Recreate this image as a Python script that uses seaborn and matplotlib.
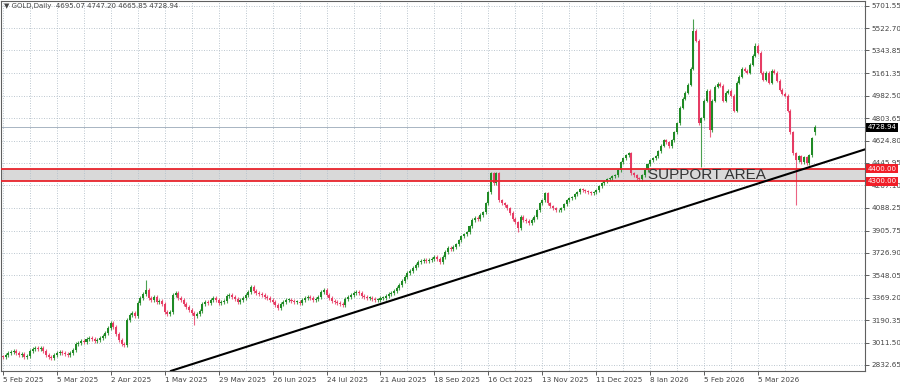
import matplotlib
matplotlib.use("Agg")
import matplotlib.pyplot as plt
import matplotlib.transforms as mtransforms
import numpy as np
import pandas as pd
import seaborn as sns

# ---------------- data ----------------
closes = [
    2896, 2912, 2928, 2936, 2944, 2928, 2912, 2920, 2896, 2904,
    2944, 2960, 2968, 2960, 2968, 2944, 2912, 2896, 2888, 2912,
    2928, 2936, 2928, 2920, 2912, 2928, 2952, 2999, 3007, 3023,
    3015, 3039, 3047, 3039, 3023, 3031, 3047, 3063, 3087, 3127,
    3167, 3135, 3079, 3031, 2999, 2991, 3191, 3231, 3247, 3223,
    3326, 3366, 3398, 3430, 3366, 3350, 3374, 3334, 3342, 3318,
    3254, 3239, 3254, 3390, 3406, 3366, 3350, 3318, 3294, 3270,
    3247, 3223, 3239, 3262, 3318, 3334, 3326, 3350, 3366, 3350,
    3326, 3334, 3342, 3382, 3390, 3374, 3358, 3334, 3350, 3366,
    3390, 3414, 3454, 3422, 3406, 3398, 3390, 3374, 3366, 3350,
    3334, 3310, 3286, 3318, 3334, 3350, 3350, 3342, 3334, 3334,
    3326, 3350, 3366, 3374, 3366, 3350, 3358, 3374, 3414, 3430,
    3390, 3366, 3342, 3334, 3326, 3318, 3310, 3358, 3374, 3390,
    3406, 3414, 3406, 3382, 3374, 3366, 3366, 3358, 3350, 3350,
    3366, 3366, 3382, 3398, 3406, 3422, 3446, 3470, 3502, 3533,
    3565, 3581, 3605, 3629, 3653, 3661, 3669, 3661, 3669, 3677,
    3693, 3677, 3653, 3693, 3733, 3765, 3757, 3773, 3796, 3828,
    3860, 3876, 3892, 3940, 3988, 4004, 3996, 4028, 4051, 4123,
    4211, 4362, 4283, 4362, 4147, 4123, 4107, 4083, 4044, 3996,
    3972, 3924, 4012, 3988, 3980, 3964, 3988, 4012, 4067, 4123,
    4147, 4203, 4123, 4099, 4083, 4067, 4067, 4083, 4115, 4147,
    4163, 4171, 4195, 4211, 4235, 4227, 4219, 4211, 4203, 4211,
    4227, 4259, 4283, 4299, 4315, 4322, 4338, 4346, 4386, 4450,
    4482, 4506, 4522, 4362, 4346, 4322, 4315, 4346, 4386, 4434,
    4466, 4482, 4498, 4538, 4585, 4625, 4609, 4578, 4625, 4689,
    4761, 4888, 4960, 5008, 5072, 5199, 5502, 5422, 4761, 4801,
    4944, 5024, 4705, 4944, 5056, 5080, 5064, 4944, 5008, 5024,
    4984, 4864, 5088, 5135, 5199, 5183, 5167, 5231, 5303, 5383,
    5327, 5167, 5112, 5167, 5088, 5183, 5167, 5104, 5032, 5000,
    4984, 4864, 4689, 4522, 4466, 4498, 4450, 4490, 4442, 4506,
    4641, 4728.94,
]
first_open = 2900
last_open, last_high, last_low = 4695.07, 4747.20, 4665.85
wick_highs = {53: 3510, 181: 4370, 183: 4372, 232: 4530, 256: 5598, 279: 5406}
wick_lows = {71: 3151, 191: 3892, 259: 4410, 262: 4649, 294: 4107}

date_labels = ["5 Feb 2025", "5 Mar 2025", "2 Apr 2025", "1 May 2025", "29 May 2025",
               "26 Jun 2025", "24 Jul 2025", "21 Aug 2025", "18 Sep 2025", "16 Oct 2025",
               "13 Nov 2025", "11 Dec 2025", "8 Jan 2026", "5 Feb 2026", "5 Mar 2026"]
date_positions = [0, 20, 40, 60, 80, 100, 120, 140, 160, 180, 200, 220, 240, 260, 280]
price_ticks = [5701.55, 5522.70, 5343.85, 5161.35, 4982.50, 4803.65, 4624.80, 4445.95,
               4267.10, 4088.25, 3905.75, 3726.90, 3548.05, 3369.20, 3190.35, 3011.50, 2832.65]
support_levels = [4400.00, 4300.00]
last_price = 4728.94
trend_idx = [62.2, 319.6]
trend_price = [2784, 4554]
title = "\u25BC GOLD,Daily  4695.07 4747.20 4665.85 4728.94"

# ---------------- build OHLC ----------------
n = len(closes)
opens = [first_open] + closes[:-1]
opens[-1] = last_open
df = pd.DataFrame({"i": np.arange(n), "open": opens, "close": closes})
df["high"] = df[["open", "close"]].max(axis=1) + 14
df["low"] = df[["open", "close"]].min(axis=1) - 14
for k, v in wick_highs.items():
    df.loc[k, "high"] = v
for k, v in wick_lows.items():
    df.loc[k, "low"] = v
df.loc[n - 1, "high"] = last_high
df.loc[n - 1, "low"] = last_low
df["up"] = df["close"] >= df["open"]

# ---------------- plot ----------------
sns.set_style("white")
plt.rcParams["font.family"] = ["DejaVu Sans"]

fig = plt.figure(figsize=(9, 3.82), dpi=100)
ax = fig.add_axes([0.001, 11 / 382, 0.960, 1 - 11 / 382 - 0.002])

up_c, dn_c = "#1f8a25", "#e63c64"
grid_c = "#b4c0ca"

ax.set_xlim(-0.74, 319.6)
ax.set_ylim(2784, 5741)

# support area
ax.axhspan(support_levels[1], support_levels[0], color="#d9d9d9", zorder=0.5, lw=0)
for lvl in support_levels:
    ax.axhline(lvl, color="#e8242c", lw=1.3, zorder=3)
ax.axhline(last_price, color="#a8b4c2", lw=0.7, zorder=1)

# candles
colors = np.where(df["up"], up_c, dn_c)
ax.vlines(df["i"], df["low"], df["high"], colors=colors, lw=0.8, alpha=0.8, zorder=2)
body_bottom = df[["open", "close"]].min(axis=1)
body_h = (df["close"] - df["open"]).abs().clip(lower=6)
ax.bar(df["i"], body_h, bottom=body_bottom, width=0.75, color=colors, lw=0, zorder=2.5)

# trend line
sns.lineplot(x=trend_idx, y=trend_price, color="black", lw=1.5, ax=ax, zorder=4)

# text
ax.text(239, 4352, "SUPPORT AREA", fontsize=11, family="Liberation Sans",
        color="#333333", va="center", ha="left", zorder=5)
ax.text(0.004, 0.993, title, transform=ax.transAxes, fontsize=5, color="#444444",
        va="top", ha="left")

# axes cosmetics
ax.yaxis.tick_right()
ax.set_yticks(price_ticks)
ax.set_yticklabels([f"{p:.2f}" for p in price_ticks])
ax.set_xticks(date_positions)
ax.set_xticklabels(date_labels, ha="left")
ax.set_xticks([p + 10 for p in date_positions], minor=True)
ax.tick_params(axis="y", which="major", length=3, width=0.6, labelsize=5.2, pad=2,
               colors="#444444", right=True, left=False)
ax.tick_params(axis="x", which="major", length=3, width=0.6, labelsize=5.2, pad=1.5,
               colors="#444444", bottom=True)
ax.tick_params(axis="x", which="minor", length=0)
ax.grid(True, which="both", axis="x", color=grid_c, ls=(0, (1.2, 1.8)), lw=0.6)
ax.grid(True, which="major", axis="y", color=grid_c, ls=(0, (1.2, 1.8)), lw=0.6)
ax.set_axisbelow(True)
for s in ax.spines.values():
    s.set_color("#606060")
    s.set_linewidth(0.8)
ax.set_xlabel("")
ax.set_ylabel("")
if ax.get_legend() is not None:
    ax.get_legend().remove()

# price boxes on the right
trans = mtransforms.blended_transform_factory(ax.transAxes, ax.transData)
ax.text(1.003, last_price, f"{last_price:.2f}", transform=trans, color="white",
        fontsize=5, va="center", ha="left", clip_on=False, zorder=6,
        bbox=dict(facecolor="black", edgecolor="none", pad=1.0))
for lvl in support_levels:
    ax.text(1.003, lvl, f"{lvl:.2f}", transform=trans, color="white",
            fontsize=5, va="center", ha="left", clip_on=False, zorder=6,
            bbox=dict(facecolor="#f01e28", edgecolor="none", pad=1.0))

fig.savefig("out.png", dpi=100)
